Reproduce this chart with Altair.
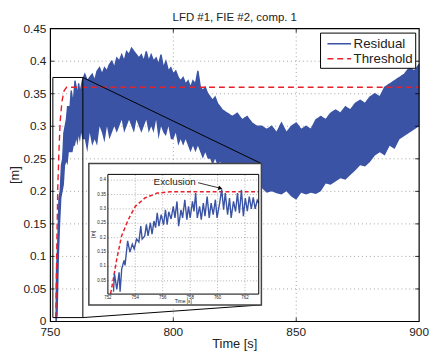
import altair as alt
import pandas as pd

TITLE = "LFD #1, FIE #2, comp. 1"
X_TITLE = "Time [s]"
Y_TITLE = "[m]"
FONT = "Liberation Sans"
BLUE = "#3A53A4"
RED = "#E8202A"
INK = "#222"
GRID = "#8a8a8a"

series_names = ["Residual", "Threshold"]

# ---- main residual envelope ----
res_t = [752.3, 752.5, 753.0, 753.5, 754.0, 754.5, 755.0, 755.5, 756.0, 756.5, 757.0, 757.5,
         758.0, 758.5, 759.0, 759.5, 760.0, 760.5, 761.0, 761.5, 762.0, 762.5, 763.0,
         764, 765, 766, 767, 768, 769, 770, 771, 772, 773, 774, 775, 776, 777, 778, 779,
         780, 781, 782, 783, 784, 785, 786, 787, 788, 789, 790, 791, 792, 793, 794, 795,
         796, 797, 798, 799, 800, 801, 802, 803, 804, 805, 806, 807, 808, 809, 810, 811,
         812, 813, 814, 815, 816, 817, 818, 819, 820,
         822, 824, 826, 828, 830, 832, 834, 836, 838, 840, 842, 844, 846, 848, 850, 852,
         854, 856, 858, 860, 862, 864, 866, 868, 870, 872, 874, 876, 878, 880, 882, 884,
         886, 888, 890, 892, 894, 896, 898, 900]
res_hi = [0.0, 0.08, 0.12, 0.19, 0.20, 0.24, 0.25, 0.29, 0.30, 0.31, 0.33, 0.33,
          0.33, 0.355, 0.34, 0.345, 0.37, 0.36, 0.345, 0.366, 0.35, 0.36, 0.37,
          0.38, 0.37, 0.375, 0.38, 0.37, 0.385, 0.39, 0.38, 0.39, 0.385, 0.395, 0.40, 0.39, 0.405, 0.40, 0.41,
          0.40, 0.415, 0.41, 0.42, 0.415, 0.41, 0.405, 0.41, 0.40, 0.415, 0.40, 0.41, 0.40, 0.405, 0.395, 0.41,
          0.39, 0.40, 0.385, 0.39, 0.38, 0.385, 0.375, 0.37, 0.375, 0.365, 0.37, 0.36, 0.37, 0.365, 0.385, 0.36,
          0.355, 0.36, 0.35, 0.345, 0.34, 0.345, 0.335, 0.33, 0.325,
          0.32, 0.315, 0.32, 0.31, 0.315, 0.305, 0.30, 0.30, 0.295, 0.30, 0.29, 0.305, 0.29, 0.30, 0.305, 0.295,
          0.30, 0.295, 0.31, 0.315, 0.31, 0.32, 0.325, 0.32, 0.33, 0.325, 0.335, 0.34, 0.335, 0.345, 0.35, 0.345,
          0.36, 0.365, 0.37, 0.375, 0.38, 0.39, 0.385, 0.395]
res_lo = [0.0, 0.0, 0.01, 0.10, 0.15, 0.19, 0.20, 0.21, 0.24, 0.245, 0.24, 0.26,
          0.26, 0.26, 0.26, 0.27, 0.27, 0.28, 0.27, 0.285, 0.275, 0.29, 0.28,
          0.28, 0.26, 0.29, 0.27, 0.28, 0.27, 0.30, 0.29, 0.275, 0.30, 0.28, 0.29, 0.30, 0.29, 0.30, 0.31,
          0.29, 0.30, 0.31, 0.30, 0.29, 0.31, 0.30, 0.29, 0.30, 0.31, 0.29, 0.30, 0.29, 0.31, 0.28, 0.30,
          0.29, 0.285, 0.30, 0.28, 0.28, 0.29, 0.27, 0.28, 0.27, 0.28, 0.27, 0.26, 0.27, 0.26, 0.27, 0.26,
          0.25, 0.26, 0.25, 0.25, 0.24, 0.25, 0.24, 0.245, 0.24,
          0.235, 0.23, 0.225, 0.22, 0.215, 0.21, 0.21, 0.205, 0.198, 0.20, 0.197, 0.195, 0.20, 0.192, 0.187, 0.198,
          0.195, 0.198, 0.196, 0.20, 0.212, 0.21, 0.215, 0.22, 0.218, 0.225, 0.232, 0.24, 0.238, 0.245, 0.255, 0.26,
          0.255, 0.27, 0.265, 0.28, 0.285, 0.29, 0.295, 0.30]

# ---- threshold ----
thr_t = [752.2, 752.45, 752.65, 753.0, 753.5, 754.0, 754.7, 755.6, 756.6, 758.0, 763.0, 900.0]
thr_v = [0.005, 0.07, 0.126, 0.206, 0.264, 0.309, 0.338, 0.355, 0.36, 0.36, 0.36, 0.36]

# ---- zoomed residual (inset) ----
zoom_t = [752.41, 752.48, 752.65, 752.82, 752.89, 753.01, 753.18, 753.25, 753.44, 753.61, 753.78, 753.92,
          754.09, 754.26, 754.40, 754.50, 754.69, 754.81, 754.93, 755.10, 755.22, 755.36, 755.48, 755.60,
          755.72, 755.89, 756.06, 756.20, 756.32, 756.44, 756.61, 756.77, 756.89, 757.04, 757.16, 757.33,
          757.45, 757.61, 757.76, 757.88, 758.00, 758.17, 758.28, 758.40, 758.52, 758.69, 758.81, 758.96,
          759.08, 759.24, 759.39, 759.53, 759.68, 759.84, 759.96, 760.15, 760.30, 760.44, 760.56, 760.73,
          760.87, 760.99, 761.16, 761.31, 761.45, 761.59, 761.74, 761.88, 762.02, 762.17, 762.31, 762.46,
          762.60, 762.74, 762.89, 763.0]
zoom_v = [0.012, 0.075, 0.02, 0.08, 0.012, 0.092, 0.121, 0.104, 0.189, 0.150, 0.178, 0.161,
          0.195, 0.185, 0.24, 0.195, 0.206, 0.246, 0.206, 0.252, 0.212, 0.258, 0.235, 0.286,
          0.24, 0.28, 0.245, 0.297, 0.245, 0.29, 0.265, 0.309, 0.269, 0.326, 0.24, 0.297,
          0.269, 0.332, 0.263, 0.309, 0.269, 0.326, 0.291, 0.355, 0.269, 0.309, 0.263, 0.32,
          0.275, 0.343, 0.269, 0.32, 0.28, 0.332, 0.269, 0.32, 0.368, 0.297, 0.355, 0.28,
          0.338, 0.269, 0.326, 0.291, 0.355, 0.285, 0.366, 0.275, 0.338, 0.292, 0.343, 0.30,
          0.34, 0.30, 0.33, 0.32]

# ---- ticks ----
x_ticks = [750, 800, 850, 900]
x_tick_labels = ["750", "800", "850", "900"]
y_ticks = [0, 0.05, 0.1, 0.15, 0.2, 0.25, 0.3, 0.35, 0.4, 0.45]
y_tick_labels = ["0", "0.05", "0.1", "0.15", "0.2", "0.25", "0.3", "0.35", "0.4", "0.45"]
ins_xticks = [752, 754, 756, 758, 760, 762]
ins_xtick_labels = ["752", "754", "756", "758", "760", "762"]
ins_yticks = [0.05, 0.1, 0.15, 0.2, 0.25, 0.3, 0.35, 0.4]
ins_ytick_labels = ["0.05", "0.1", "0.15", "0.2", "0.25", "0.3", "0.35", "0.4"]

# ---- annotation geometry (main data coords) ----
x_dom = [750, 900]
y_dom = [0, 0.45]
box_t = [751.0, 763.2]
box_v = [0.006, 0.375]
frame_t = [765.64, 835.83]
frame_v = [0.0255, 0.2427]
ins_dom_t = [752, 763]
ins_dom_v = [0.004, 0.42]
excl_label = "Exclusion"
excl_pos = [756.87, 0.392]
arrow_t = [758.58, 760.2]
arrow_v = [0.391, 0.372]

W, H = 374, 297
INS_X = [58.3, 211.3]
INS_Y = [269.2, 147.8]
TICK = 4

sxm = alt.Scale(domain=x_dom, nice=False, zero=False)
sym = alt.Scale(domain=y_dom, nice=False, zero=False)


def X(f, s=sxm):
    return alt.X(f, scale=s, axis=None)


def Y(f, s=sym):
    return alt.Y(f, scale=s, axis=None)


band_df = pd.DataFrame({"t": res_t, "hi": res_hi, "lo": res_lo})
line_df = pd.concat([
    pd.DataFrame({"t": res_t, "v": res_hi, "series": series_names[0]}),
    pd.DataFrame({"t": thr_t, "v": thr_v, "series": series_names[1]}),
])
xtick_df = pd.DataFrame({"t": x_ticks, "label": x_tick_labels, "v0": y_dom[0], "v1": y_dom[1]})
ytick_df = pd.DataFrame({"v": y_ticks, "label": y_tick_labels, "t0": x_dom[0], "t1": x_dom[1]})
inner_x = (alt.datum.t > x_dom[0]) & (alt.datum.t < x_dom[1])
inner_y = (alt.datum.v > y_dom[0]) & (alt.datum.v < y_dom[1])

# grids
xgrid = alt.Chart(xtick_df).transform_filter(inner_x).mark_rule(
    color=GRID, strokeDash=[1, 3], strokeWidth=0.8).encode(x=X("t:Q"), y=Y("v0:Q"), y2="v1:Q")
ygrid = alt.Chart(ytick_df).transform_filter(inner_y).mark_rule(
    color=GRID, strokeDash=[1, 3], strokeWidth=0.8).encode(x=X("t0:Q"), x2="t1:Q", y=Y("v:Q"))

band = alt.Chart(band_df).mark_area(color=BLUE, opacity=1).encode(x=X("t:Q"), y=Y("lo:Q"), y2="hi:Q")

lines = alt.Chart(line_df).mark_line(strokeWidth=1.4).encode(
    x=X("t:Q"), y=Y("v:Q"),
    color=alt.Color("series:N", scale=alt.Scale(domain=series_names, range=[BLUE, RED]), legend=None),
    strokeDash=alt.StrokeDash("series:N", scale=alt.Scale(domain=series_names, range=[[1, 0], [6, 4]]), legend=None),
)

box_df = pd.DataFrame({"t0": [box_t[0]], "t1": [box_t[1]], "v0": [box_v[0]], "v1": [box_v[1]]})
src_box = alt.Chart(box_df).mark_rect(fill=None, stroke="black", strokeWidth=1).encode(
    x=X("t0:Q"), x2="t1:Q", y=Y("v0:Q"), y2="v1:Q")

conn_df = pd.DataFrame({"t0": [box_t[1], box_t[1]], "v0": [box_v[1], box_v[0]],
                        "t1": [frame_t[1], frame_t[1]], "v1": [frame_v[1], frame_v[0]]})
conn = alt.Chart(conn_df).mark_rule(color="black", strokeWidth=1).encode(
    x=X("t0:Q"), y=Y("v0:Q"), x2="t1:Q", y2="v1:Q")

frame_df = pd.DataFrame({"t0": [frame_t[0]], "t1": [frame_t[1]], "v0": [frame_v[0]], "v1": [frame_v[1]]})
frame = alt.Chart(frame_df).mark_rect(fill="white", stroke="#444", strokeWidth=1.5).encode(
    x=X("t0:Q"), x2="t1:Q", y=Y("v0:Q"), y2="v1:Q")

# plot-area border (MATLAB box)
border_df = pd.DataFrame({"t0": [x_dom[0]], "t1": [x_dom[1]], "v0": [y_dom[0]], "v1": [y_dom[1]]})
border = alt.Chart(border_df).mark_rect(fill=None, stroke="black", strokeWidth=1.2).encode(
    x=X("t0:Q"), x2="t1:Q", y=Y("v0:Q"), y2="v1:Q")

# inward ticks on all four sides
xt_bot = alt.Chart(xtick_df).transform_filter(inner_x).mark_rule(color="black", strokeWidth=0.8).encode(
    x=X("t:Q"), y=alt.value(H), y2=alt.value(H - TICK))
xt_top = alt.Chart(xtick_df).transform_filter(inner_x).mark_rule(color="black", strokeWidth=0.8).encode(
    x=X("t:Q"), y=alt.value(0), y2=alt.value(TICK))
yt_left = alt.Chart(ytick_df).transform_filter(inner_y).mark_rule(color="black", strokeWidth=0.8).encode(
    y=Y("v:Q"), x=alt.value(0), x2=alt.value(TICK))
yt_right = alt.Chart(ytick_df).transform_filter(inner_y).mark_rule(color="black", strokeWidth=0.8).encode(
    y=Y("v:Q"), x=alt.value(W - TICK), x2=alt.value(W))

# tick labels & titles
xlab = alt.Chart(xtick_df).mark_text(font=FONT, fontSize=12, color=INK, baseline="top", dy=6).encode(
    x=X("t:Q"), y=Y("v0:Q"), text="label:N")
ylab = alt.Chart(ytick_df).mark_text(font=FONT, fontSize=12, color=INK, align="right",
                                     baseline="middle", dx=-4).encode(
    x=X("t0:Q"), y=Y("v:Q"), text="label:N")
titles_df = pd.DataFrame({"label": [TITLE, X_TITLE, Y_TITLE]})
ttl = alt.Chart(titles_df.head(1)).mark_text(font=FONT, fontSize=11.6, color=INK,
                                             baseline="alphabetic", align="center").encode(
    x=alt.value(W / 2), y=alt.value(-8.2), text="label:N")
xttl = alt.Chart(titles_df.iloc[[1]]).mark_text(font=FONT, fontSize=13, color=INK,
                                                baseline="alphabetic", align="center").encode(
    x=alt.value(W / 2), y=alt.value(H + 26.5), text="label:N")
yttl = alt.Chart(titles_df.tail(1)).mark_text(font=FONT, fontSize=13, color=INK, angle=270,
                                              baseline="alphabetic", align="center").encode(
    x=alt.value(-31.5), y=alt.value(H / 2), text="label:N")

# legend (drawn manually, MATLAB style)
leg_df = pd.DataFrame({"series": series_names, "py": [15.2, 30.6]})
leg_box = alt.Chart(border_df).mark_rect(fill="white", stroke="black", strokeWidth=1).encode(
    x=alt.value(274), x2=alt.value(370.5), y=alt.value(4.5), y2=alt.value(40.2))
leg_lines = alt.Chart(leg_df).mark_rule(strokeWidth=1.5).encode(
    x=alt.value(281), x2=alt.value(305), y=alt.Y("py:Q", scale=None, axis=None),
    color=alt.Color("series:N", scale=alt.Scale(domain=series_names, range=[BLUE, RED]), legend=None),
    strokeDash=alt.StrokeDash("series:N", scale=alt.Scale(domain=series_names, range=[[1, 0], [6, 4]]), legend=None),
)
leg_text = alt.Chart(leg_df).mark_text(font=FONT, fontSize=13.5, color=INK, align="left",
                                       baseline="middle", dy=0.5).encode(
    x=alt.value(307.5), y=alt.Y("py:Q", scale=None, axis=None), text="series:N")

main = alt.layer(xgrid, ygrid, band, lines, src_box, conn, frame, border,
                 xt_bot, xt_top, yt_left, yt_right, xlab, ylab,
                 ttl, xttl, yttl, leg_box, leg_lines, leg_text)

# ---- inset ----
sxi = alt.Scale(domain=ins_dom_t, range=INS_X, nice=False, zero=False)
syi = alt.Scale(domain=ins_dom_v, range=INS_Y, nice=False, zero=False)

gx_df = pd.DataFrame({"g": ins_xticks, "label": ins_xtick_labels, "v0": ins_dom_v[0], "v1": ins_dom_v[1]})
gy_df = pd.DataFrame({"g": ins_yticks, "label": ins_ytick_labels, "t0": ins_dom_t[0], "t1": ins_dom_t[1]})
gridx = alt.Chart(gx_df).transform_filter(alt.datum.g > ins_dom_t[0]).mark_rule(
    color=GRID, strokeDash=[1, 2], strokeWidth=0.7).encode(x=X("g:Q", sxi), y=Y("v0:Q", syi), y2="v1:Q")
gridy = alt.Chart(gy_df).mark_rule(color=GRID, strokeDash=[1, 2], strokeWidth=0.7).encode(
    y=Y("g:Q", syi), x=X("t0:Q", sxi), x2="t1:Q")
xlab_i = alt.Chart(gx_df).mark_text(font=FONT, fontSize=4.5, color=INK, baseline="top", dy=1).encode(
    x=X("g:Q", sxi), y=Y("v0:Q", syi), text="label:N")
ylab_i = alt.Chart(gy_df).mark_text(font=FONT, fontSize=4.5, color=INK, align="right",
                                    baseline="middle", dx=-2).encode(
    x=X("t0:Q", sxi), y=Y("g:Q", syi), text="label:N")
ititle_df = pd.DataFrame({"label": [X_TITLE, Y_TITLE]})
ixt = alt.Chart(ititle_df.head(1)).mark_text(font=FONT, fontSize=5, color=INK, baseline="alphabetic",
                                             align="center").encode(
    x=alt.value((INS_X[0] + INS_X[1]) / 2), y=alt.value(INS_Y[0] + 9), text="label:N")
iyt = alt.Chart(ititle_df.tail(1)).mark_text(font=FONT, fontSize=5, color=INK, baseline="middle",
                                             align="center", angle=270).encode(
    x=alt.value(INS_X[0] - 15), y=alt.value((INS_Y[0] + INS_Y[1]) / 2), text="label:N")

thr_df = pd.DataFrame({"t": thr_t, "v": thr_v})
ithr = alt.Chart(thr_df).transform_filter(alt.datum.t <= ins_dom_t[1]).mark_line(
    color=RED, strokeDash=[4, 2.5], strokeWidth=1.5).encode(x=X("t:Q", sxi), y=Y("v:Q", syi))

zoom_df = pd.DataFrame({"t": zoom_t, "v": zoom_v})
ires = alt.Chart(zoom_df).mark_line(color=BLUE, strokeWidth=1.4).encode(x=X("t:Q", sxi), y=Y("v:Q", syi))

ibox_df = pd.DataFrame({"t0": [ins_dom_t[0]], "t1": [ins_dom_t[1]], "v0": [ins_dom_v[0]], "v1": [ins_dom_v[1]]})
ibox = alt.Chart(ibox_df).mark_rect(fill=None, stroke="black", strokeWidth=1).encode(
    x=X("t0:Q", sxi), x2="t1:Q", y=Y("v0:Q", syi), y2="v1:Q")

txt_df = pd.DataFrame({"t": [excl_pos[0]], "v": [excl_pos[1]], "label": [excl_label]})
itxt = alt.Chart(txt_df).mark_text(font=FONT, fontSize=10, color=INK, baseline="middle").encode(
    x=X("t:Q", sxi), y=Y("v:Q", syi), text="label:N")

arr_df = pd.DataFrame({"t0": [arrow_t[0]], "v0": [arrow_v[0]], "t1": [arrow_t[1]], "v1": [arrow_v[1]]})
iarr = alt.Chart(arr_df).mark_rule(color="black", strokeWidth=0.8).encode(
    x=X("t0:Q", sxi), y=Y("v0:Q", syi), x2="t1:Q", y2="v1:Q")
ihead = alt.Chart(arr_df).mark_point(shape="triangle-right", filled=True, color="black", size=22,
                                     angle=14, opacity=1).encode(x=X("t1:Q", sxi), y=Y("v1:Q", syi))

inset = alt.layer(gridx, gridy, ithr, ires, ibox, xlab_i, ylab_i, ixt, iyt, itxt, iarr, ihead)

chart = alt.layer(main, inset).resolve_scale(x="independent", y="independent").properties(
    width=W, height=H,
    autosize=alt.AutoSizeParams(type="none"),
    padding={"left": 43, "top": 18.5, "right": 10, "bottom": 30},
).configure_view(stroke=None)

chart.save("out.html", embed_options={"renderer": "svg", "actions": False})
